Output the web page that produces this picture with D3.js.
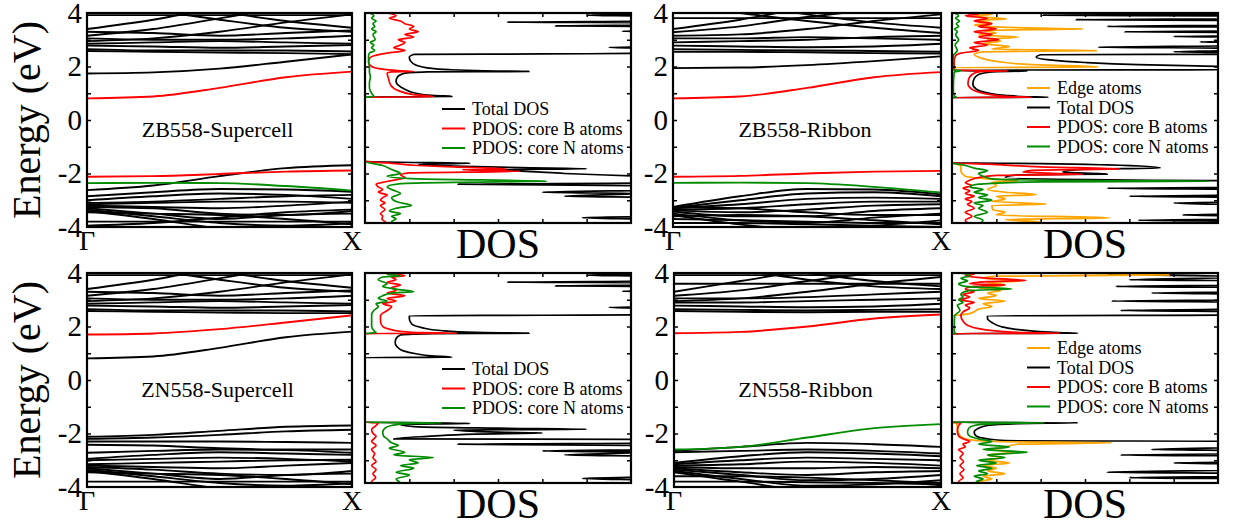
<!DOCTYPE html>
<html><head><meta charset="utf-8">
<script src="https://cdnjs.cloudflare.com/ajax/libs/d3/7.8.5/d3.min.js"></script>
<style>body{margin:0;background:#fff}svg{display:block}text{font-family:"Liberation Serif","Times New Roman",serif;fill:#000}</style>
</head><body><svg id="c" width="1236" height="529"></svg>
<script>
// ---------------- DATA ----------------
const kPoints = [0, 0.25, 0.5, 0.75, 1];
const kLabels = ["Γ", "X"];
const energyTicks = [-4, -2, 0, 2, 4];
const panelTitles = ["ZB558-Supercell", "ZB558-Ribbon", "ZN558-Supercell", "ZN558-Ribbon"];
const legendSupercell = ["Total DOS", "PDOS: core B atoms", "PDOS: core N atoms"];
const legendRibbon = ["Edge atoms", "Total DOS", "PDOS: core B atoms", "PDOS: core N atoms"];
const yLabel = "Energy (eV)";
const xLabelDos = "DOS";

// shared conduction manifold (upper black bands, supercell)
const zbSupBlack = [
  [3.92,3.92,3.92,3.92,3.92],[3.4,3.75,4.2,4.5,4.6],[3.15,3.4,3.8,4.2,4.4],[2.95,3.05,3.3,3.65,3.95],
  [3.3,3.25,3.15,3.25,3.35],[4.4,4.1,3.75,3.45,3.3],[4.7,4.4,4.05,3.7,3.45],[3.05,3.0,3.0,3.05,3.15],
  [2.85,2.9,2.95,2.9,2.85],[2.78,2.75,2.7,2.75,2.8],[2.65,2.6,2.6,2.6,2.56],[2.58,2.55,2.52,2.5,2.46],
  [1.74,1.78,1.92,2.18,2.45],
  [-2.62,-2.45,-2.1,-1.8,-1.69],[-2.85,-2.7,-2.58,-2.6,-2.68],[-3.0,-2.85,-2.75,-2.8,-2.95],
  [-3.1,-3.05,-2.95,-2.85,-2.8],[-3.15,-3.1,-3.05,-3.05,-3.1],[-3.2,-3.25,-3.3,-3.2,-3.05],
  [-3.25,-3.3,-3.5,-3.55,-3.4],[-3.3,-3.5,-3.7,-3.55,-3.5],[-3.35,-3.6,-3.85,-3.95,-3.85],
  [-3.4,-3.7,-4.05,-4.2,-4.1],[-3.45,-3.5,-3.55,-3.7,-3.9],[-3.8,-3.8,-3.8,-3.8,-3.8],
  [-3.95,-3.85,-3.65,-3.45,-3.35]
];
const zbSupRed = [[0.81,0.88,1.2,1.6,1.81],[-2.12,-2.1,-2.02,-1.93,-1.89]];
const zbSupGreen = [[-2.36,-2.35,-2.36,-2.47,-2.64]];

const zbRibBlack = [
  [3.81,3.81,3.81,3.81,3.81],[3.4,3.75,4.2,4.5,4.6],[3.28,3.5,3.85,4.1,4.2],[3.15,3.2,3.4,3.7,3.95],
  [4.3,4.0,3.7,3.45,3.25],[4.6,4.3,3.95,3.65,3.45],[3.05,3.05,3.1,3.05,3.0],[2.9,2.95,3.0,3.1,3.15],
  [2.78,2.75,2.72,2.75,2.85],[2.65,2.62,2.6,2.58,2.55],[2.55,2.55,2.53,2.5,2.48],
  [1.94,1.96,2.05,2.2,2.38],
  [-3.25,-2.85,-2.58,-2.6,-2.78],[-3.28,-3.0,-2.75,-2.7,-2.85],[-3.3,-3.15,-2.95,-2.9,-2.95],
  [-3.35,-3.3,-3.15,-3.05,-3.05],[-3.38,-3.45,-3.35,-3.2,-3.15],[-3.42,-3.6,-3.6,-3.4,-3.3],
  [-3.5,-3.75,-3.85,-3.65,-3.5],[-3.55,-3.9,-4.1,-3.95,-3.75],[-3.6,-3.55,-3.6,-3.75,-3.9],
  [-3.7,-3.75,-3.8,-3.85,-3.85],[-3.85,-3.85,-3.9,-3.95,-4.0],[-3.25,-3.3,-3.45,-3.55,-3.55]
];
const zbRibRed = [[0.81,0.88,1.2,1.6,1.79],[-2.12,-2.09,-2.0,-1.93,-1.9]];
const zbRibGreen = [[-2.35,-2.34,-2.36,-2.5,-2.71]];

const znSupBlack = [
  [3.92,3.92,3.92,3.92,3.92],[3.4,3.75,4.2,4.5,4.6],[3.15,3.4,3.8,4.2,4.4],[2.95,3.05,3.3,3.65,3.95],
  [3.3,3.25,3.15,3.25,3.35],[4.4,4.1,3.75,3.45,3.3],[4.7,4.4,4.05,3.7,3.45],[3.05,3.0,3.0,3.05,3.15],
  [2.85,2.9,2.95,2.9,2.85],[2.78,2.75,2.7,2.75,2.8],[2.65,2.6,2.6,2.6,2.56],[2.58,2.55,2.52,2.5,2.5],
  [0.81,0.88,1.2,1.6,1.81],
  [-2.12,-2.05,-1.9,-1.75,-1.7],[-2.2,-2.15,-2.05,-1.92,-1.86],[-2.3,-2.3,-2.3,-2.32,-2.35],
  [-2.42,-2.45,-2.55,-2.6,-2.6],[-2.72,-2.65,-2.6,-2.62,-2.72],[-2.95,-2.8,-2.7,-2.75,-2.8],
  [-3.0,-2.95,-2.9,-2.95,-3.05],[-3.15,-3.1,-3.05,-3.0,-2.98],[-3.2,-3.25,-3.3,-3.2,-3.1],
  [-3.25,-3.35,-3.5,-3.55,-3.4],[-3.3,-3.5,-3.7,-3.55,-3.5],[-3.35,-3.6,-3.85,-3.95,-3.85],
  [-3.4,-3.7,-4.05,-4.2,-4.1],[-3.45,-3.5,-3.55,-3.7,-3.9],[-3.8,-3.8,-3.8,-3.8,-3.8]
];
const znSupRed = [[1.7,1.74,1.9,2.15,2.42]];
const znSupGreen = [];

const znRibBlack = [
  [3.92,3.92,3.92,3.92,3.92],[3.6,3.6,3.6,3.6,3.6],[3.3,3.7,4.1,4.4,4.6],[3.15,3.35,3.7,4.0,4.2],
  [2.95,3.05,3.3,3.6,3.85],[4.4,4.1,3.75,3.5,3.4],[4.6,4.35,4.0,3.7,3.5],[3.05,3.05,3.1,3.2,3.3],
  [2.9,2.9,2.95,3.0,3.05],[2.78,2.75,2.72,2.75,2.85],[2.65,2.62,2.6,2.62,2.65],[2.58,2.55,2.53,2.55,2.55],
  [-2.65,-2.5,-2.35,-2.4,-2.5],[-2.7,-2.65,-2.6,-2.65,-2.75],[-3.1,-2.85,-2.7,-2.75,-2.85],
  [-3.15,-3.0,-2.9,-2.95,-3.0],[-3.2,-3.15,-3.05,-3.1,-3.2],[-3.25,-3.3,-3.3,-3.25,-3.3],
  [-3.3,-3.45,-3.55,-3.45,-3.4],[-3.35,-3.55,-3.75,-3.7,-3.55],[-3.4,-3.7,-3.95,-3.9,-3.75],
  [-3.45,-3.8,-4.1,-4.1,-3.95],[-3.6,-3.6,-3.65,-3.75,-3.85],[-3.8,-3.8,-3.82,-3.85,-3.9]
];
const znRibRed = [[1.75,1.8,2.0,2.3,2.45]];
const znRibGreen = [[-2.6,-2.5,-2.15,-1.8,-1.65]];

// DOS series: [energy, DOS]
const zbSupTotal = [[4.0,75],[3.95,62],[3.92,50],[3.89,62],[3.85,72],[3.70,70],[3.66,32],[3.63,70],[3.55,68],[3.52,43],[3.49,65],[3.35,66],[3.32,58],[3.29,66],[3.0,70],[2.75,66],[2.71,55],[2.68,66],[2.5,72],[2.47,40],[2.45,11],[2.35,10],[2.2,10.3],[2.05,11.5],[1.95,14],[1.88,19],[1.84,27],[1.815,37],[1.80,14],[1.75,9],[1.6,7.3],[1.45,7],[1.3,7.5],[1.15,9],[1.0,11.5],[0.92,15],[0.88,19.6],[0.86,3],[0.85,0],[-1.55,0],[-1.58,8],[-1.62,23.7],[-1.66,12],[-1.72,20],[-1.78,35],[-1.82,50],[-1.86,30],[-1.94,38.7],[-2.0,45],[-2.1,62],[-2.2,75],[-2.35,65],[-2.4,21],[-2.45,60],[-2.6,70],[-2.7,40],[-2.75,62],[-2.85,45],[-2.9,66],[-3.0,70],[-3.6,70],[-3.65,49],[-3.72,65],[-3.8,70],[-3.9,72]];
const zbSupB = [[4.0,5],[3.9,7],[3.8,5.5],[3.7,8],[3.6,9],[3.5,11],[3.4,10],[3.3,12],[3.2,9],[3.1,11],[3.0,7.5],[2.9,9],[2.8,8],[2.7,6.5],[2.6,9],[2.5,5],[2.4,2],[2.3,1],[2.15,0.8],[2.0,1.5],[1.9,4],[1.84,8],[1.815,11],[1.80,6],[1.75,5],[1.55,5.3],[1.3,5.8],[1.1,7.5],[0.95,11],[0.87,15.5],[0.85,0],[-1.55,0],[-1.6,5],[-1.7,12],[-1.75,20],[-1.83,32],[-1.86,22],[-1.92,35],[-1.98,10],[-2.05,8],[-2.15,9],[-2.3,5],[-2.4,2.5],[-2.5,3],[-2.6,4],[-2.7,3],[-2.8,5],[-2.9,4],[-3.0,3.5],[-3.1,4.5],[-3.2,3.5],[-3.35,4.5],[-3.5,3.5],[-3.6,4],[-3.7,3.8],[-3.8,4.5],[-3.9,5]];
const zbSupN = [[4.0,1],[3.9,2],[3.8,1.5],[3.7,2.5],[3.6,1.8],[3.5,2.2],[3.4,1.5],[3.3,2.5],[3.2,1.8],[3.0,2.3],[2.9,1.2],[2.8,2],[2.7,1.5],[2.6,2.2],[2.5,1],[2.4,0.8],[2.2,0.8],[2.0,1],[1.8,1],[1.6,1.2],[1.4,1],[1.2,1],[1.0,1.5],[0.88,2],[0.85,0],[-1.55,0],[-1.7,4],[-1.85,6],[-2.0,8],[-2.1,5],[-2.2,12],[-2.29,41],[-2.33,20],[-2.38,8],[-2.5,5],[-2.6,6],[-2.75,8],[-2.9,6],[-3.05,7],[-3.2,10.5],[-3.3,7],[-3.4,5.5],[-3.5,8],[-3.6,6],[-3.7,7],[-3.8,6],[-3.9,8]];

const zbRibEdge = [[4.0,4],[3.95,9],[3.88,5],[3.78,12.3],[3.72,6],[3.62,9],[3.55,5],[3.47,11],[3.4,29.6],[3.35,7],[3.25,10],[3.18,6],[3.1,15],[3.02,8],[2.95,11],[2.85,7],[2.75,13],[2.65,9],[2.59,32.6],[2.55,7],[2.45,5],[2.35,6],[2.25,8],[2.15,12],[2.07,18],[2.02,28],[1.98,33],[1.96,0],[-1.6,0],[-1.7,2],[-1.9,2],[-2.1,3],[-2.2,8],[-2.28,15],[-2.32,9],[-2.45,10],[-2.6,8],[-2.7,12],[-2.79,19],[-2.85,10],[-2.95,12],[-3.05,9],[-3.14,21.3],[-3.2,9],[-3.35,9.2],[-3.45,12],[-3.55,10],[-3.66,35.6],[-3.72,12],[-3.81,19.8],[-3.86,10],[-3.9,12]];
const zbRibTotal = [[4.0,70],[3.95,60],[3.92,20.5],[3.89,60],[3.8,70],[3.75,28],[3.72,65],[3.55,70],[3.5,35],[3.47,65],[3.33,65],[3.3,39],[3.27,65],[3.15,68],[3.12,50],[3.09,68],[2.95,70],[2.92,56],[2.89,70],[2.78,65],[2.72,33],[2.68,65],[2.6,62],[2.55,50],[2.5,70],[2.46,70],[2.44,20],[2.35,19],[2.25,22],[2.15,30],[2.07,42],[2.02,55],[1.98,70],[1.88,70],[1.87,1.5],[1.845,1.5],[1.83,17],[1.80,9],[1.7,6],[1.55,5],[1.35,4.7],[1.15,5.5],[1.0,8.5],[0.92,12],[0.87,17],[0.85,21.7],[0.84,0],[-1.6,0],[-1.63,20],[-1.68,35],[-1.79,47],[-1.84,30],[-1.95,25],[-2.02,35],[-2.05,15],[-2.15,12],[-2.25,40],[-2.28,80],[-2.5,80],[-2.55,35],[-2.6,70],[-2.8,70],[-2.85,40],[-2.9,70],[-3.05,70],[-3.1,50],[-3.2,70],[-3.5,70],[-3.55,52],[-3.6,70],[-3.7,70],[-3.75,42],[-3.8,70],[-3.9,70]];
const zbRibB = [[4.0,2],[3.95,6],[3.9,3],[3.8,8],[3.7,5],[3.6,9],[3.5,6],[3.4,10],[3.3,5],[3.2,9],[3.1,6],[3.0,10.5],[2.9,5],[2.8,8],[2.7,4],[2.6,6],[2.5,2],[2.4,0.8],[2.2,0.5],[2.0,0.5],[1.86,0.5],[1.835,12.6],[1.82,7],[1.75,5],[1.55,3.8],[1.35,3.6],[1.15,4.5],[1.0,7],[0.92,10],[0.87,14],[0.85,17.9],[0.84,0],[-1.6,0],[-1.65,8],[-1.75,20],[-1.83,37.8],[-1.88,18],[-1.95,16],[-2.03,29.6],[-2.07,10],[-2.15,6],[-2.25,4],[-2.35,3],[-2.45,4.5],[-2.55,2.5],[-2.65,4],[-2.75,3],[-2.85,5],[-2.95,3],[-3.05,4.5],[-3.15,3.5],[-3.3,5],[-3.45,3],[-3.6,4.5],[-3.75,3],[-3.9,4]];
const zbRibN = [[4.0,0.5],[3.9,1.5],[3.8,0.8],[3.7,1.7],[3.6,1],[3.5,1.5],[3.4,0.6],[3.3,1.2],[3.2,0.8],[3.0,1.5],[2.8,0.7],[2.6,1.2],[2.4,0.3],[2.0,0.3],[1.87,0.3],[1.84,2],[1.8,0.5],[1.2,0.3],[0.9,0.5],[0.85,1],[0.84,0],[-1.6,0],[-1.7,3],[-1.8,5],[-1.9,8],[-2.0,6],[-2.1,7],[-2.2,9],[-2.27,30],[-2.29,57.8],[-2.31,20],[-2.4,6],[-2.5,4],[-2.6,7],[-2.7,5],[-2.8,8],[-2.9,6],[-3.0,9],[-3.1,5],[-3.2,7],[-3.3,6],[-3.45,8],[-3.6,5],[-3.75,7],[-3.9,6]];

const znSupTotal = [[4.0,70],[3.95,58],[3.92,50],[3.89,62],[3.85,70],[3.7,70],[3.66,32],[3.63,70],[3.55,68],[3.52,43],[3.49,65],[3.35,66],[3.32,58],[3.29,66],[3.0,70],[2.75,66],[2.71,55],[2.68,66],[2.45,72],[2.42,40],[2.4,10],[2.3,10],[2.1,10.5],[1.95,13],[1.85,17],[1.78,25],[1.75,37],[1.73,15],[1.68,8],[1.55,7],[1.4,6.8],[1.25,7.2],[1.1,8.5],[0.98,11.5],[0.9,15],[0.85,19.6],[0.84,0],[-1.58,0],[-1.6,15],[-1.63,23.7],[-1.66,8],[-1.75,12],[-1.8,30],[-1.84,50],[-1.87,20],[-1.95,30],[-1.98,40],[-2.02,25],[-2.1,15],[-2.2,6.5],[-2.22,65],[-2.35,70],[-2.4,21],[-2.45,65],[-2.6,70],[-2.65,40],[-2.7,65],[-2.8,45],[-2.85,66],[-3.0,70],[-3.6,70],[-3.68,49],[-3.75,66],[-3.9,70]];
const znSupB = [[4.0,4],[3.9,9],[3.85,6],[3.75,7],[3.65,5],[3.55,8],[3.45,6],[3.35,7],[3.25,5],[3.15,9],[3.05,5],[2.95,7],[2.85,4],[2.75,6],[2.6,5],[2.5,4],[2.4,3.5],[2.2,3.5],[2.0,4],[1.9,5.5],[1.82,8],[1.77,13],[1.745,20.7],[1.735,0],[-1.58,0],[-1.6,3],[-1.7,2.5],[-1.85,1.5],[-2.0,1.8],[-2.1,2.5],[-2.2,2],[-2.3,1.5],[-2.45,2.5],[-2.6,1.5],[-2.75,2.2],[-2.9,1.8],[-3.05,2.5],[-3.2,1.5],[-3.35,2.5],[-3.5,1.8],[-3.65,2.4],[-3.8,1.5],[-3.9,2]];
const znSupN = [[4.0,6],[3.95,5],[3.9,8],[3.85,4],[3.75,3],[3.6,5],[3.5,4],[3.4,7],[3.3,11],[3.25,6],[3.15,4],[3.05,3],[2.95,5],[2.85,2.5],[2.75,3],[2.6,2],[2.45,1.5],[2.2,1.5],[2.0,1.5],[1.85,2],[1.77,2.5],[1.74,0],[-1.58,0],[-1.6,17.3],[-1.63,10],[-1.7,6],[-1.8,4.5],[-1.95,4],[-2.1,4.2],[-2.2,5],[-2.35,6],[-2.45,7.5],[-2.55,5.5],[-2.7,9],[-2.8,6.5],[-2.9,15.5],[-2.98,10],[-3.1,12],[-3.2,8],[-3.3,11],[-3.45,7],[-3.55,10],[-3.7,7],[-3.85,8],[-3.9,7]];

const znRibEdge = [[4.0,20],[3.93,49],[3.88,10],[3.8,7],[3.7,15.8],[3.65,8],[3.55,12],[3.45,6],[3.35,11],[3.25,8],[3.15,10],[3.05,6],[2.95,12],[2.85,7],[2.75,9],[2.65,6],[2.55,5],[2.45,3],[2.4,0],[-1.58,0],[-1.6,1],[-2.0,1.5],[-2.2,3],[-2.3,10],[-2.35,36],[-2.4,15],[-2.5,12],[-2.6,9],[-2.7,14],[-2.8,8],[-2.9,11],[-3.0,8],[-3.1,13],[-3.2,7],[-3.3,10],[-3.4,8],[-3.5,12],[-3.6,7],[-3.7,9],[-3.8,6],[-3.9,8]];
const znRibTotal = [[4.0,70],[3.95,35],[3.9,55],[3.85,70],[3.75,40],[3.7,70],[3.55,70],[3.5,37],[3.45,70],[3.3,70],[3.25,45],[3.2,70],[3.0,70],[2.95,36],[2.9,70],[2.65,65],[2.6,38],[2.55,70],[2.43,70],[2.4,8],[2.3,8],[2.15,9],[2.0,11],[1.9,14],[1.82,19],[1.77,24],[1.745,28.4],[1.735,0],[-1.58,0],[-1.6,28.4],[-1.63,15],[-1.7,8],[-1.8,6],[-1.95,5],[-2.1,5.5],[-2.2,8],[-2.27,12],[-2.29,70],[-2.5,70],[-2.6,45],[-2.65,70],[-2.75,70],[-2.8,38],[-2.85,70],[-3.05,70],[-3.1,50],[-3.15,70],[-3.35,70],[-3.45,35],[-3.5,70],[-3.6,70],[-3.65,40],[-3.7,70],[-3.9,70]];
const znRibB = [[4.0,3],[3.95,5],[3.9,3],[3.82,7],[3.72,16.7],[3.68,8],[3.6,4],[3.55,12],[3.5,5],[3.4,3],[3.3,5],[3.2,2.5],[3.1,4],[3.0,2],[2.9,5],[2.8,3],[2.7,4],[2.55,2.5],[2.4,2],[2.2,2.5],[2.05,3.5],[1.92,6],[1.82,11],[1.77,17],[1.75,24.3],[1.735,0],[-1.58,0],[-1.6,2],[-1.7,1.5],[-1.9,1.2],[-2.1,1.5],[-2.2,2.5],[-2.3,4],[-2.4,2.5],[-2.5,3],[-2.6,1.5],[-2.75,2.5],[-2.9,1.8],[-3.05,2.6],[-3.2,1.8],[-3.35,2.7],[-3.5,1.8],[-3.65,2.5],[-3.8,1.5],[-3.9,2]];
const znRibN = [[4.0,2],[3.9,4],[3.8,2],[3.7,3.5],[3.6,1.5],[3.5,3],[3.4,13.5],[3.35,4],[3.2,2],[3.1,2.5],[3.0,1.5],[2.9,2.5],[2.8,1.2],[2.6,1.8],[2.4,0.6],[2.0,0.5],[1.8,0.5],[1.74,0.8],[1.735,0],[-1.58,0],[-1.6,20.9],[-1.63,10],[-1.7,5],[-1.8,3.8],[-1.95,3.5],[-2.1,4],[-2.2,6],[-2.3,9],[-2.4,6],[-2.5,13],[-2.6,7],[-2.7,17],[-2.8,8],[-2.9,12],[-3.0,6],[-3.1,10],[-3.2,5.5],[-3.3,9],[-3.4,6],[-3.5,8],[-3.6,5],[-3.7,7],[-3.8,5.5],[-3.9,6]];

const dosTicks = [10, 20, 30, 40, 50];

// ---------------- LAYOUT ----------------
const C = {black:"#000", red:"#ff0000", green:"#008c00", orange:"#ffa500"};
const panels = [
  {title:panelTitles[0], bx:[87,352], top:13, bot:227, dx:[365,631], showY:true,
   bands:{black:zbSupBlack, red:zbSupRed, green:zbSupGreen},
   dos:[["black",zbSupTotal],["red",zbSupB],["green",zbSupN]], legend:legendSupercell, lcol:["black","red","green"]},
  {title:panelTitles[1], bx:[673,941], top:13, bot:227, dx:[952,1218], showY:false,
   bands:{black:zbRibBlack, red:zbRibRed, green:zbRibGreen},
   dos:[["black",zbRibTotal],["orange",zbRibEdge],["red",zbRibB],["green",zbRibN]], legend:legendRibbon, lcol:["orange","black","red","green"]},
  {title:panelTitles[2], bx:[87,352], top:273, bot:487, dx:[365,631], showY:true,
   bands:{black:znSupBlack, red:znSupRed, green:znSupGreen},
   dos:[["black",znSupTotal],["red",znSupB],["green",znSupN]], legend:legendSupercell, lcol:["black","red","green"]},
  {title:panelTitles[3], bx:[674,941], top:273, bot:487, dx:[952,1218], showY:false,
   bands:{black:znRibBlack, red:znRibRed, green:znRibGreen},
   dos:[["black",znRibTotal],["orange",znRibEdge],["red",znRibB],["green",znRibN]], legend:legendRibbon, lcol:["orange","black","red","green"]}
];

const svg = d3.select("#c");
const defs = svg.append("defs");

panels.forEach((p, pi) => {
  const y = d3.scaleLinear().domain([-4, 4]).range([p.bot, p.top]);
  const xk = d3.scaleLinear().domain([0, 1]).range(p.bx);
  const xd = d3.scaleLinear().domain([0, 60]).range(p.dx);
  const dosBot = y(-3.85);

  // ---- band panel ----
  defs.append("clipPath").attr("id", "cb" + pi).append("rect")
    .attr("x", p.bx[0]).attr("y", p.top).attr("width", p.bx[1] - p.bx[0]).attr("height", p.bot - p.top);
  const gb = svg.append("g").attr("clip-path", `url(#cb${pi})`);
  const bandLine = d3.line().x((d, i) => xk(kPoints[i])).y(d => y(d)).curve(d3.curveMonotoneX);
  ["black", "red", "green"].forEach(c => {
    gb.selectAll(null).data(p.bands[c]).enter().append("path")
      .attr("d", bandLine).attr("fill", "none").attr("stroke", C[c]).attr("stroke-width", 1.9);
  });
  // frame
  svg.append("rect").attr("x", p.bx[0]).attr("y", p.top).attr("width", p.bx[1] - p.bx[0]).attr("height", p.bot - p.top)
    .attr("fill", "none").attr("stroke", "#000").attr("stroke-width", 2.2);
  // y ticks (inner, both sides)
  const ticksE = d3.range(-3, 4, 1);
  const axL = d3.axisRight(y).tickValues(ticksE).tickSize(4).tickFormat("");
  const axR = d3.axisLeft(y).tickValues(ticksE).tickSize(4).tickFormat("");
  svg.append("g").attr("transform", `translate(${p.bx[0]},0)`).call(axL).call(g => g.select(".domain").remove()).selectAll("line").attr("stroke-width", 1.5);
  svg.append("g").attr("transform", `translate(${p.bx[1]},0)`).call(axR).call(g => g.select(".domain").remove()).selectAll("line").attr("stroke-width", 1.5);
  // tick labels
  svg.selectAll(null).data(energyTicks).enter().append("text")
    .attr("x", p.bx[0] - 5).attr("y", d => y(d) + 9.5).attr("text-anchor", "end")
    .attr("font-size", 29).text(d => d);
  // k labels
  svg.selectAll(null).data(kLabels).enter().append("text")
    .attr("x", (d, i) => xk(i)).attr("y", p.bot + 23).attr("text-anchor", "middle")
    .attr("font-size", 28).text(d => d);
  // title
  svg.append("text").attr("x", (p.bx[0] + p.bx[1]) / 2 - 2).attr("y", y(0) + 17)
    .attr("text-anchor", "middle").attr("font-size", 22).text(p.title);
  // Energy label
  if (p.showY) {
    svg.append("text").attr("transform", `translate(40,${y(0)}) rotate(-90)`)
      .attr("text-anchor", "middle").attr("font-size", 40).text(yLabel);
  }

  // ---- DOS panel ----
  defs.append("clipPath").attr("id", "cd" + pi).append("rect")
    .attr("x", p.dx[0]).attr("y", p.top).attr("width", p.dx[1] - p.dx[0]).attr("height", dosBot - p.top);
  const gd = svg.append("g").attr("clip-path", `url(#cd${pi})`);
  const dosLine = d3.line().x(d => xd(d[1])).y(d => y(d[0])).curve(d3.curveMonotoneY);
  p.dos.forEach(([c, data]) => {
    gd.append("path").datum(data).attr("d", dosLine).attr("fill", "none")
      .attr("stroke", C[c]).attr("stroke-width", 1.7);
  });
  svg.append("rect").attr("x", p.dx[0]).attr("y", p.top).attr("width", p.dx[1] - p.dx[0]).attr("height", dosBot - p.top)
    .attr("fill", "none").attr("stroke", "#000").attr("stroke-width", 2.2);
  const axT = d3.axisBottom(xd).tickValues(dosTicks).tickSize(4).tickFormat("");
  const axB = d3.axisTop(xd).tickValues(dosTicks).tickSize(4).tickFormat("");
  svg.append("g").attr("transform", `translate(0,${p.top})`).call(axT).call(g => g.select(".domain").remove()).selectAll("line").attr("stroke-width", 1.5);
  svg.append("g").attr("transform", `translate(0,${dosBot})`).call(axB).call(g => g.select(".domain").remove()).selectAll("line").attr("stroke-width", 1.5);
  svg.append("g").attr("transform", `translate(${p.dx[0]},0)`).call(axL).call(g => g.select(".domain").remove()).selectAll("line").attr("stroke-width", 1.5);
  svg.append("g").attr("transform", `translate(${p.dx[1]},0)`).call(axR).call(g => g.select(".domain").remove()).selectAll("line").attr("stroke-width", 1.5);
  svg.append("text").attr("x", (p.dx[0] + p.dx[1]) / 2).attr("y", dosBot + 35)
    .attr("text-anchor", "middle").attr("font-size", 42).text(xLabelDos);

  // legend
  const lx = p.legend.length === 4 ? p.dx[0] + 75 : p.dx[0] + 77;
  const ly0 = p.legend.length === 4 ? p.top + 75 : p.top + 96;
  const step = 19.5;
  p.legend.forEach((t, i) => {
    const yy = ly0 + i * step;
    svg.append("line").attr("x1", lx).attr("x2", lx + 23).attr("y1", yy).attr("y2", yy)
      .attr("stroke", C[p.lcol[i]]).attr("stroke-width", 2);
    svg.append("text").attr("x", lx + 30).attr("y", yy + 6).attr("font-size", 18).text(t);
  });
});
</script></body></html>
